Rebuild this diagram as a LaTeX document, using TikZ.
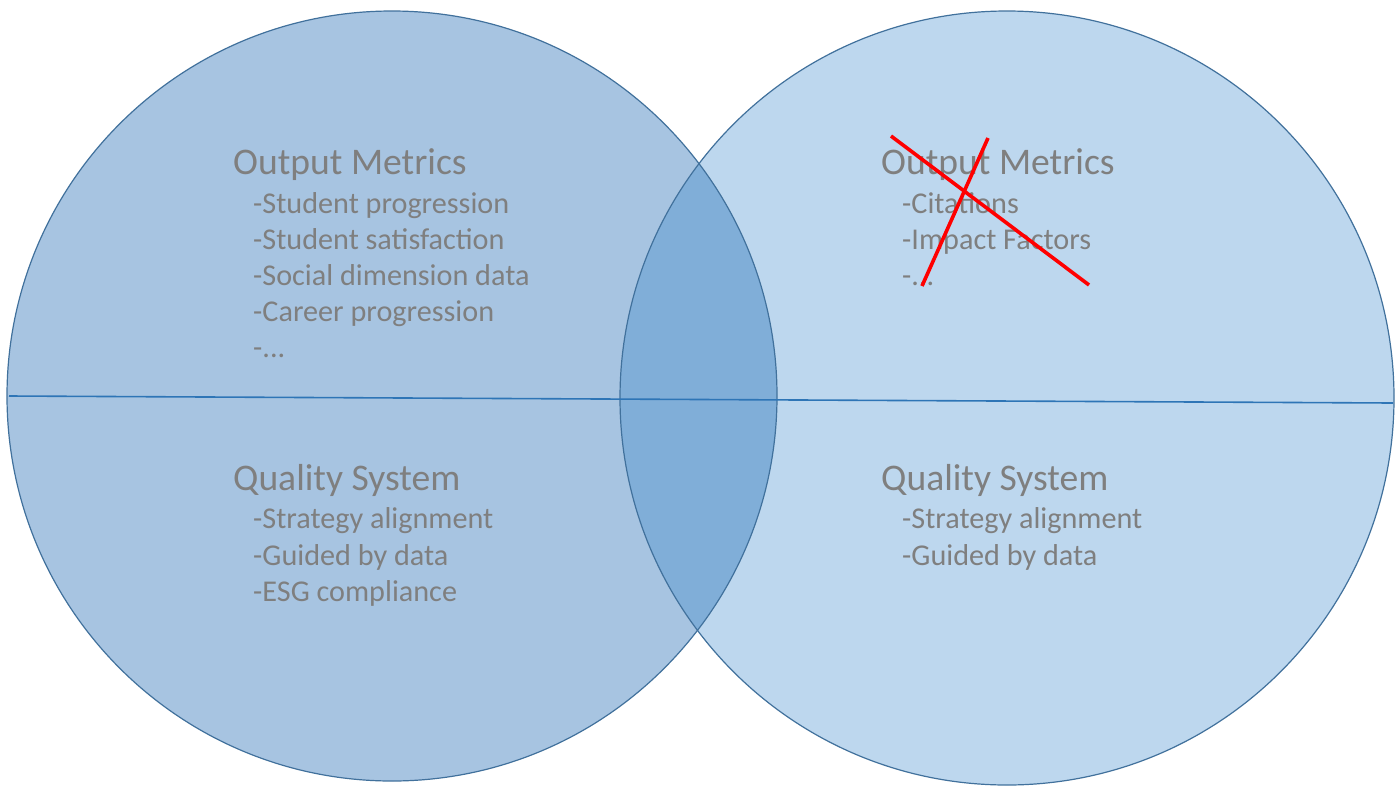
\documentclass[tikz,border=0pt]{standalone}
\usepackage{fontspec}
\setmainfont{Carlito}
\definecolor{leftfill}{HTML}{A7C4E1}
\definecolor{rightfill}{HTML}{BDD7EE}
\definecolor{overlapfill}{HTML}{80AED8}
\definecolor{edgeblue}{HTML}{41719C}
\definecolor{midline}{HTML}{2E75B6}
\definecolor{txtgray}{HTML}{7F7F7F}
\definecolor{crossred}{HTML}{FF0000}
\tikzset{
  heading/.style={anchor=base west, inner sep=0pt, text=txtgray, font=\fontsize{37.6}{42}\selectfont},
  item/.style={anchor=base west, inner sep=0pt, text=txtgray, font=\fontsize{30.2}{34}\selectfont},
  crossline/.style={draw=crossred, line width=3.6pt},
}
\begin{document}
\begin{tikzpicture}[x=1pt,y=-1pt]
\fill[white] (0,0) rectangle (1400,785);
\useasboundingbox (0,0) rectangle (1400,785);
% circles
\fill[leftfill] (392,396) circle[radius=385];
\fill[rightfill] (1007,398) circle[radius=387];
\begin{scope}
  \clip (392,396) circle[radius=385];
  \fill[overlapfill] (1007,398) circle[radius=387];
\end{scope}
\draw[edgeblue, line width=1.2pt] (392,396) circle[radius=385];
\draw[edgeblue, line width=1.2pt] (1007,398) circle[radius=387];
% dividing line
\coordinate (lineL) at (9,396);
\coordinate (lineR) at (1393,403);
\draw[midline, line width=1.6pt] (lineL) -- (lineR);
% left texts
\node[heading] (lom) at (233,174) {Output Metrics};
\node[item] (l1) at (253,213) {-Student progression};
\node[item] (l2) at (253,249) {-Student satisfaction};
\node[item] (l3) at (253,285) {-Social dimension data};
\node[item] (l4) at (253,321) {-Career progression};
\node[item] (l5) at (253,357) {-...};
\node[heading] (lqs) at (233,490) {Quality System};
\node[item] (l6) at (253,528) {-Strategy alignment};
\node[item] (l7) at (253,565) {-Guided by data};
\node[item] (l8) at (253,601) {-ESG compliance};
% right texts
\node[heading] (rom) at (881,174) {Output Metrics};
\node[item] (r1) at (902,213) {-Citations};
\node[item] (r2) at (902,249) {-Impact Factors};
\node[item] (r3) at (902,285) {-...};
\node[heading] (rqs) at (881,490) {Quality System};
\node[item] (r4) at (902,528) {-Strategy alignment};
\node[item] (r5) at (902,565) {-Guided by data};
% red cross
\coordinate (c1a) at (891,136);
\coordinate (c1b) at (1089,285);
\coordinate (c2a) at (988,138);
\coordinate (c2b) at (922,286);
\draw[crossline] (c1a) -- (c1b);
\draw[crossline] (c2a) -- (c2b);
\end{tikzpicture}
\end{document}
